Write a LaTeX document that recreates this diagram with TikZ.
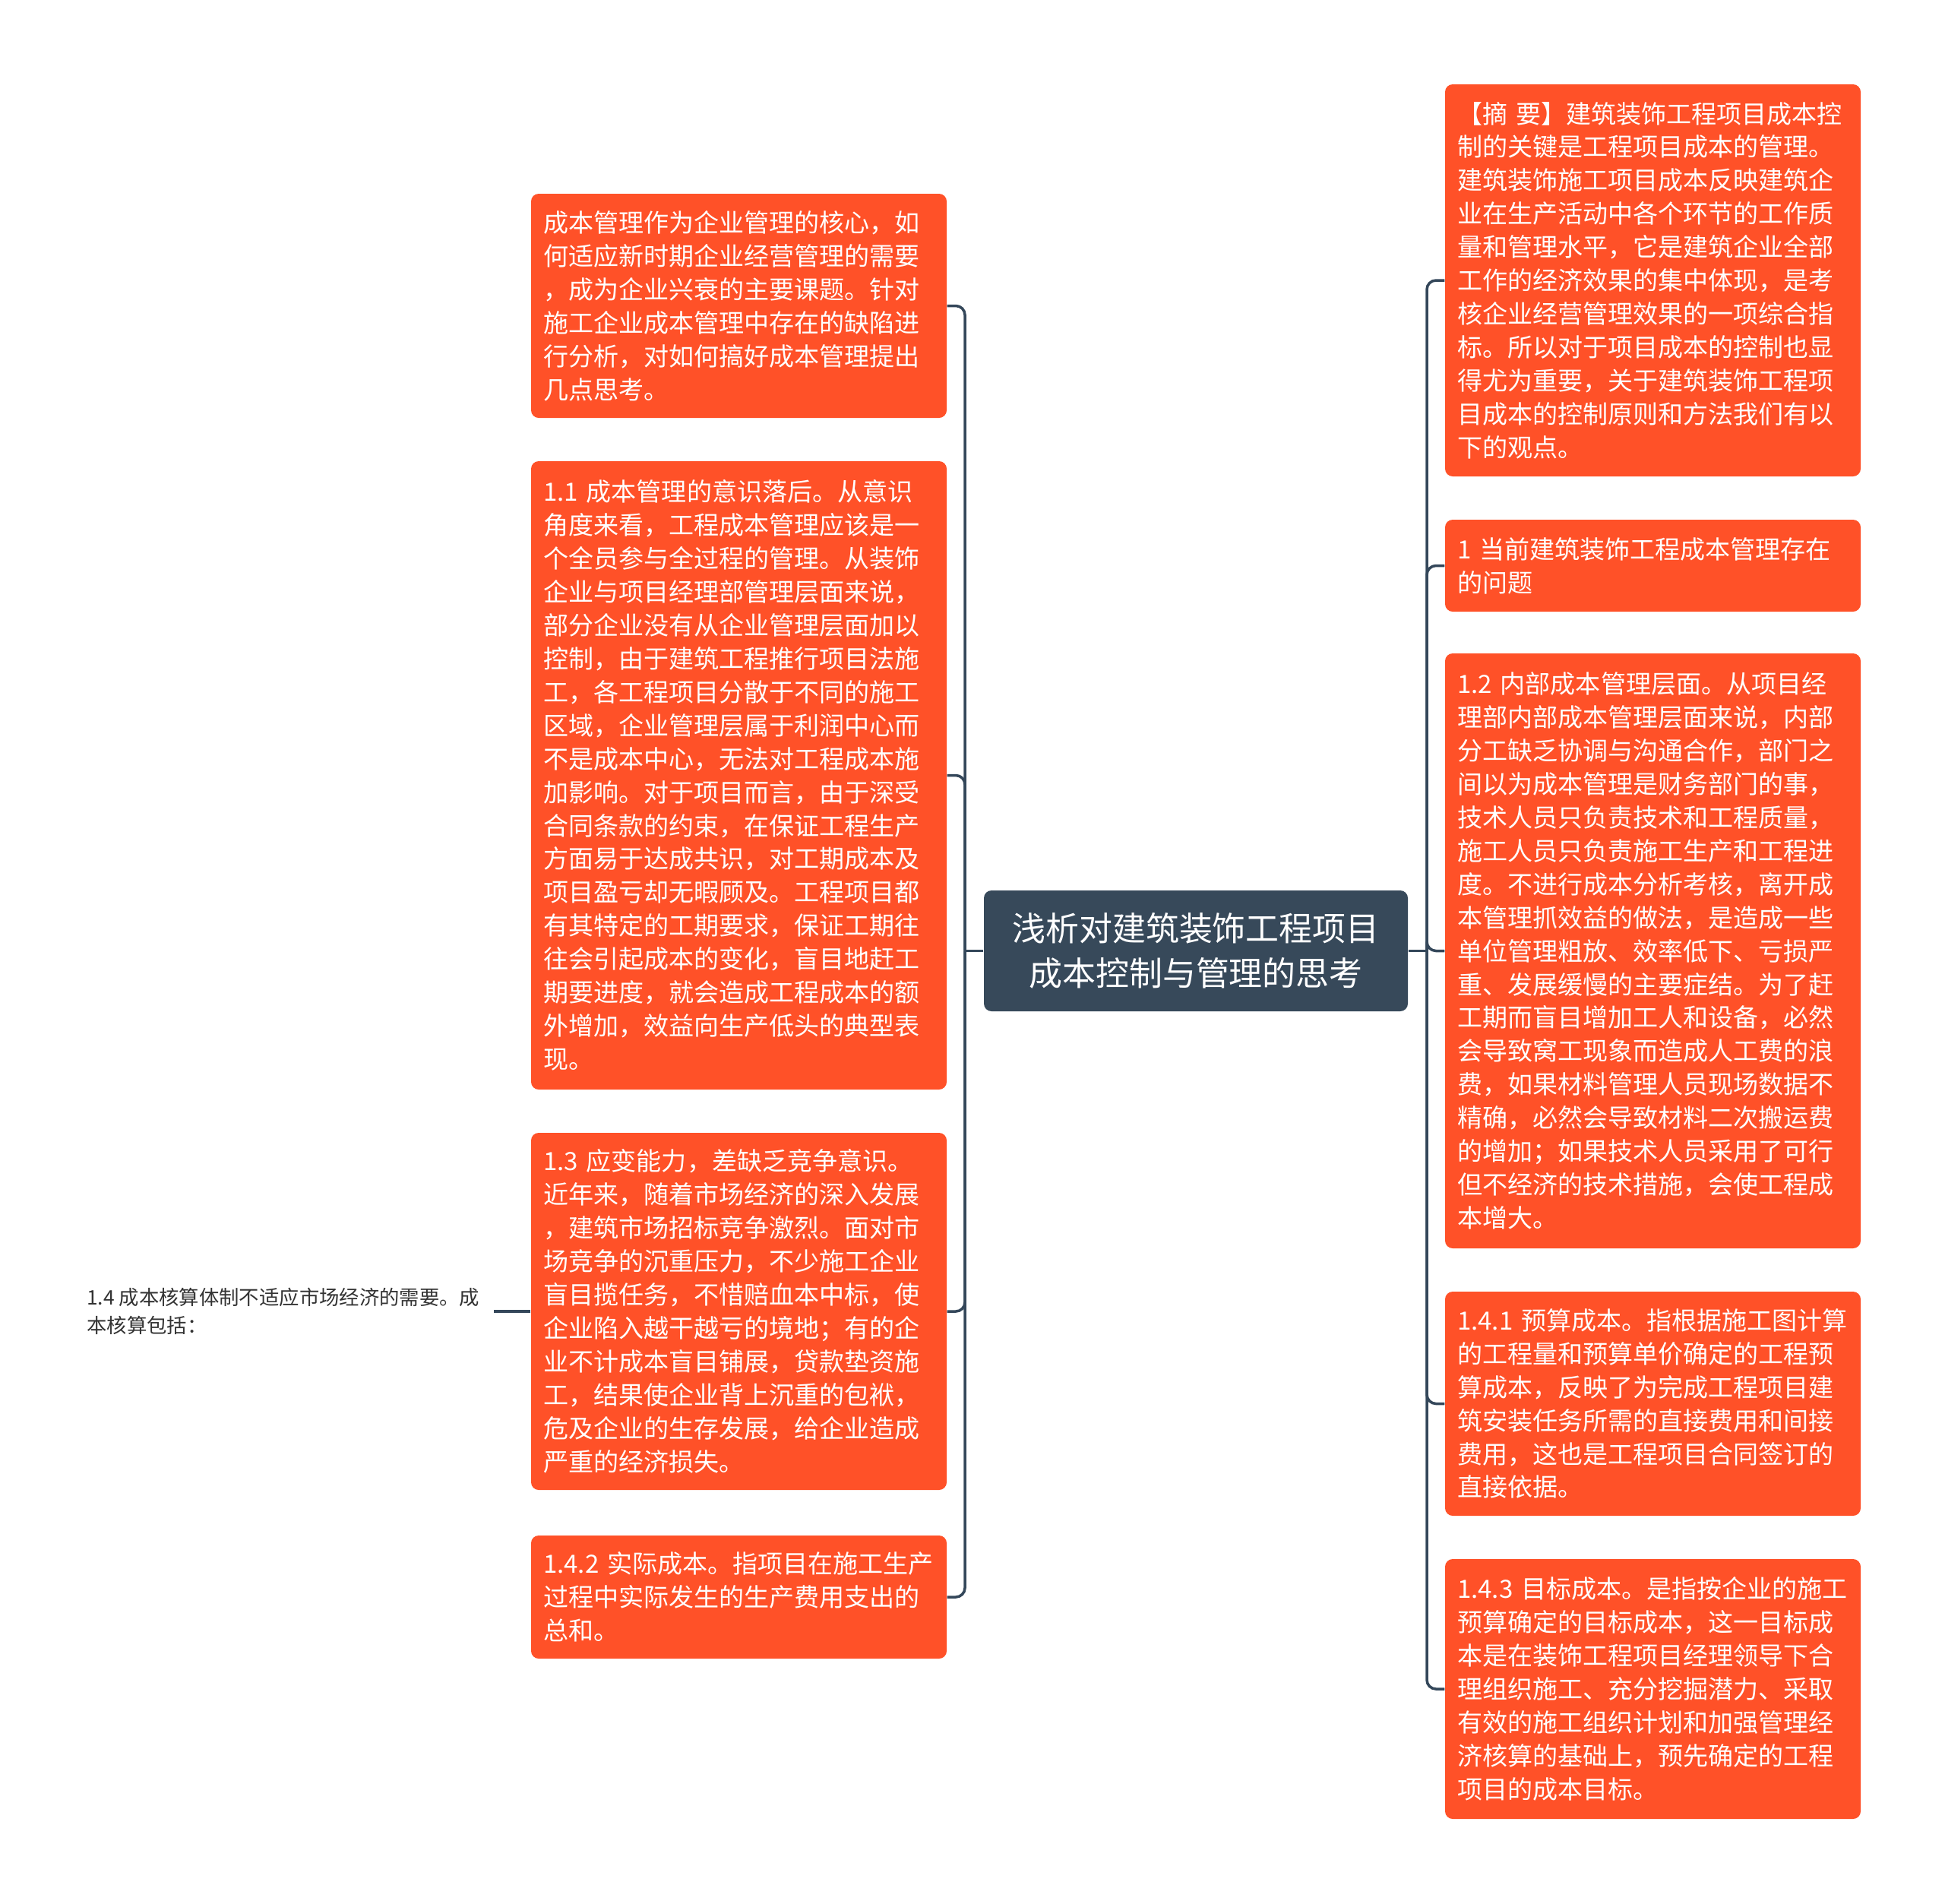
\documentclass[tikz,border=0pt]{standalone}
\usepackage{fontspec}
\setmainfont{Noto Sans CJK SC}
\usepackage{xcolor}
\usetikzlibrary{positioning}

\definecolor{boxorange}{HTML}{FF5128}
\definecolor{rootslate}{HTML}{37495A}
\definecolor{linkslate}{HTML}{34475A}
\definecolor{smallgray}{HTML}{333333}

\begin{document}
\begin{tikzpicture}[
    topic/.style={rectangle, rounded corners=0.1cm, fill=boxorange, text=white,
        font=\fontsize{9.4pt}{12.5pt}\selectfont, text width=5.15cm, align=left,
        inner xsep=0.16cm, inner ysep=0pt, minimum width=5.47cm},
    centerbox/.style={rectangle, rounded corners=0.1cm, fill=rootslate, text=white,
        font=\fontsize{12.5pt}{16.7pt}\selectfont, align=center,
        minimum width=5.58cm, minimum height=1.59cm},
    smalltext/.style={text=smallgray, font=\fontsize{7.5pt}{10.5pt}\selectfont,
        align=left, inner xsep=0.18cm, inner ysep=0pt},
    link/.style={draw=linkslate, line width=1pt, rounded corners=0.12cm}
]
    \path[use as bounding box, fill=white] (0,0) rectangle (25.6,-25.05);

    % Root
    \node[centerbox] (root) at (15.74,-12.515) {浅析对建筑装饰工程项目\\成本控制与管理的思考};
    \coordinate (jl) at (12.70,-12.515);
    \coordinate (jr) at (18.78,-12.515);

    % Left branches
    \node[topic, minimum height=2.95cm] (intro) at (9.725,-4.025) {成本管理作为企业管理的核心，如\\何适应新时期企业经营管理的需要\\，成为企业兴衰的主要课题。针对\\施工企业成本管理中存在的缺陷进\\行分析，对如何搞好成本管理提出\\几点思考。};
    \node[topic, minimum height=8.27cm] (aware) at (9.725,-10.205) {1.1 成本管理的意识落后。从意识\\角度来看，工程成本管理应该是一\\个全员参与全过程的管理。从装饰\\企业与项目经理部管理层面来说，\\部分企业没有从企业管理层面加以\\控制，由于建筑工程推行项目法施\\工，各工程项目分散于不同的施工\\区域，企业管理层属于利润中心而\\不是成本中心，无法对工程成本施\\加影响。对于项目而言，由于深受\\合同条款的约束，在保证工程生产\\方面易于达成共识，对工期成本及\\项目盈亏却无暇顾及。工程项目都\\有其特定的工期要求，保证工期往\\往会引起成本的变化，盲目地赶工\\期要进度，就会造成工程成本的额\\外增加，效益向生产低头的典型表\\现。};
    \node[topic, minimum height=4.70cm] (compete) at (9.725,-17.26) {1.3 应变能力，差缺乏竞争意识。\\近年来，随着市场经济的深入发展\\，建筑市场招标竞争激烈。面对市\\场竞争的沉重压力，不少施工企业\\盲目揽任务，不惜赔血本中标，使\\企业陷入越干越亏的境地；有的企\\业不计成本盲目铺展，贷款垫资施\\工，结果使企业背上沉重的包袱，\\危及企业的生存发展，给企业造成\\严重的经济损失。};
    \node[topic, minimum height=1.62cm] (actual) at (9.725,-21.02) {1.4.2 实际成本。指项目在施工生产\\过程中实际发生的生产费用支出的\\总和。};

    % Right branches
    \node[topic, minimum height=5.16cm] (abstract) at (21.755,-3.69) {【摘 要】建筑装饰工程项目成本控\\制的关键是工程项目成本的管理。\\建筑装饰施工项目成本反映建筑企\\业在生产活动中各个环节的工作质\\量和管理水平，它是建筑企业全部\\工作的经济效果的集中体现，是考\\核企业经营管理效果的一项综合指\\标。所以对于项目成本的控制也显\\得尤为重要，关于建筑装饰工程项\\目成本的控制原则和方法我们有以\\下的观点。};
    \node[topic, minimum height=1.21cm] (problem) at (21.755,-7.445) {1 当前建筑装饰工程成本管理存在\\的问题};
    \node[topic, minimum height=7.83cm] (internal) at (21.755,-12.515) {1.2 内部成本管理层面。从项目经\\理部内部成本管理层面来说，内部\\分工缺乏协调与沟通合作，部门之\\间以为成本管理是财务部门的事，\\技术人员只负责技术和工程质量，\\施工人员只负责施工生产和工程进\\度。不进行成本分析考核，离开成\\本管理抓效益的做法，是造成一些\\单位管理粗放、效率低下、亏损严\\重、发展缓慢的主要症结。为了赶\\工期而盲目增加工人和设备，必然\\会导致窝工现象而造成人工费的浪\\费，如果材料管理人员现场数据不\\精确，必然会导致材料二次搬运费\\的增加；如果技术人员采用了可行\\但不经济的技术措施，会使工程成\\本增大。};
    \node[topic, minimum height=2.95cm] (budget) at (21.755,-18.475) {1.4.1 预算成本。指根据施工图计算\\的工程量和预算单价确定的工程预\\算成本，反映了为完成工程项目建\\筑安装任务所需的直接费用和间接\\费用，这也是工程项目合同签订的\\直接依据。};
    \node[topic, minimum height=3.42cm] (target) at (21.755,-22.23) {1.4.3 目标成本。是指按企业的施工\\预算确定的目标成本，这一目标成\\本是在装饰工程项目经理领导下合\\理组织施工、充分挖掘潜力、采取\\有效的施工组织计划和加强管理经\\济核算的基础上，预先确定的工程\\项目的成本目标。};

    % Sub item
    \node[smalltext, anchor=east] (account) at (6.50,-17.26) {1.4 成本核算体制不适应市场经济的需要。成\\本核算包括：};

    % Connectors
    \draw[link] (root.west) -- (jl);
    \foreach \n in {intro,aware,compete,actual}
        \draw[link] (jl) |- (\n.east);
    \draw[link] (root.east) -- (jr);
    \foreach \n in {abstract,problem,internal,budget,target}
        \draw[link] (jr) |- (\n.west);
    \draw[link] (compete.west) -- (account.east);
\end{tikzpicture}
\end{document}
